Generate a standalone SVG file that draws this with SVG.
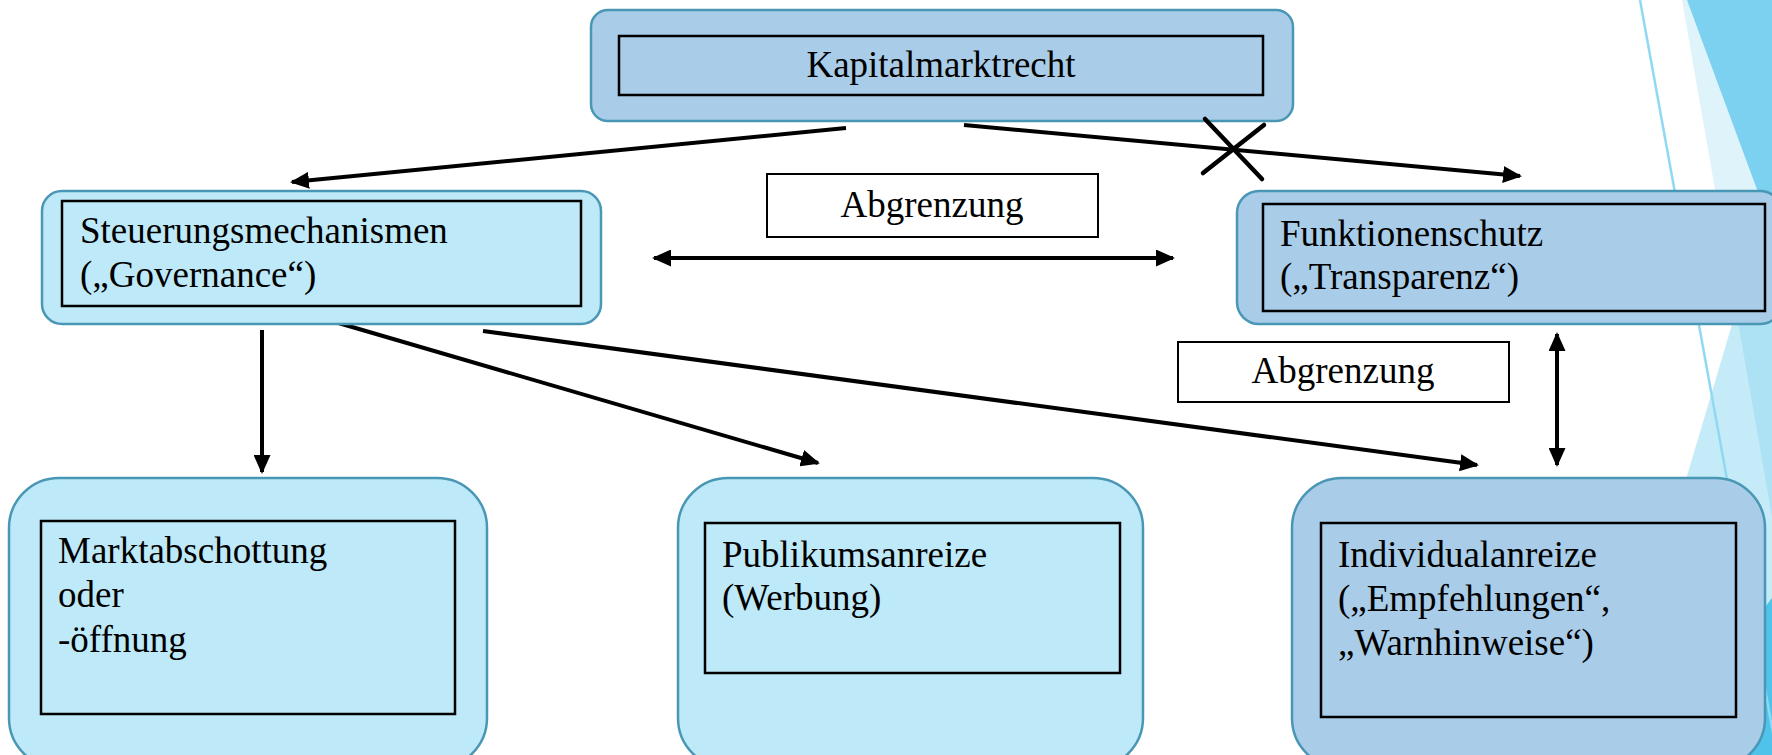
<svg xmlns="http://www.w3.org/2000/svg" width="1772" height="755" viewBox="0 0 1772 755">
<style>
.t{font-family:"Liberation Serif","Times New Roman",serif;font-size:37px;fill:#000}
.c{text-anchor:middle}
.light{fill:#BEE9F8;stroke:#4A97B5;stroke-width:2.5}
.mid{fill:#A9CDE8;stroke:#4A97B5;stroke-width:2.5}
.inner{fill:none;stroke:#000;stroke-width:2.5}
.lab{fill:#fff;stroke:#000;stroke-width:2}
.con line{stroke:#000;stroke-width:4;fill:none}
</style>
<defs>
<marker id="ah" markerUnits="userSpaceOnUse" markerWidth="19" markerHeight="17" refX="17" refY="8.5" orient="auto-start-reverse" viewBox="0 0 19 17">
<path d="M0,0 L19,8.5 L0,17 z" fill="#000"/>
</marker>
</defs>
<rect width="1772" height="755" fill="#fff"/>
<g id="background">
<polygon points="1772,190 1772,755 1604,755" fill="#C5EBF8"/>
<polygon points="1682,0 1772,0 1772,517" fill="rgb(23,168,219)" fill-opacity="0.138"/>
<polygon points="1687,0 1772,0 1772,230" fill="#7BD1EF"/>
<polygon points="1772,598 1772,755 1650,755" fill="#4FC3EA"/>
<line x1="1640" y1="0" x2="1777" y2="755" stroke="#8FD9F2" stroke-width="2.5"/>
</g>
<g id="connectors" class="con">
<line x1="846" y1="128" x2="292" y2="182" marker-end="url(#ah)"/>
<line x1="964" y1="125" x2="1520" y2="176" marker-end="url(#ah)"/>
<line x1="654" y1="258" x2="1173" y2="258" marker-start="url(#ah)" marker-end="url(#ah)"/>
<line x1="262" y1="330" x2="262" y2="472" marker-end="url(#ah)"/>
<line x1="335" y1="322" x2="818" y2="463" marker-end="url(#ah)"/>
<line x1="483" y1="331" x2="1477" y2="465" marker-end="url(#ah)"/>
<line x1="1557" y1="334" x2="1557" y2="465" marker-start="url(#ah)" marker-end="url(#ah)"/>
</g>
<g id="kapitalmarktrecht">
<rect class="mid" x="591" y="10" width="702" height="111" rx="17"/>
<rect class="inner" x="619" y="36" width="644" height="59"/>
<text class="t c" x="941" y="77">Kapitalmarktrecht</text>
</g>
<g id="cross">
<line x1="1205" y1="119" x2="1262" y2="179" stroke="#000" stroke-width="4.5" stroke-linecap="round"/>
<line x1="1264" y1="125" x2="1203" y2="173" stroke="#000" stroke-width="4.5" stroke-linecap="round"/>
</g>
<g id="steuerung">
<rect class="light" x="42" y="191" width="559" height="133" rx="20"/>
<rect class="inner" x="62" y="201" width="519" height="105"/>
<text class="t" x="80" y="243">Steuerungsmechanismen</text>
<text class="t" x="80" y="287">(„Governance“)</text>
</g>
<g id="funktionenschutz">
<rect class="mid" x="1237" y="191" width="545" height="133" rx="22"/>
<rect class="inner" x="1263" y="204" width="502" height="107"/>
<text class="t" x="1280" y="246">Funktionenschutz</text>
<text class="t" x="1280" y="289">(„Transparenz“)</text>
</g>
<g id="abgrenzung1">
<rect class="lab" x="767" y="174" width="331" height="63"/>
<text class="t c" x="932" y="217">Abgrenzung</text>
</g>
<g id="abgrenzung2">
<rect class="lab" x="1178" y="342" width="331" height="60"/>
<text class="t c" x="1343" y="383">Abgrenzung</text>
</g>
<g id="markt">
<rect class="light" x="9" y="478" width="478" height="290" rx="50"/>
<rect class="inner" x="41" y="521" width="414" height="193"/>
<text class="t" x="58" y="563">Marktabschottung</text>
<text class="t" x="58" y="607">oder</text>
<text class="t" x="58" y="652">-öffnung</text>
</g>
<g id="publikum">
<rect class="light" x="678" y="478" width="465" height="290" rx="50"/>
<rect class="inner" x="705" y="523" width="415" height="150"/>
<text class="t" x="722" y="567">Publikumsanreize</text>
<text class="t" x="722" y="610">(Werbung)</text>
</g>
<g id="individual">
<rect class="mid" x="1292" y="478" width="473" height="290" rx="50"/>
<rect class="inner" x="1321" y="523" width="415" height="194"/>
<text class="t" x="1338" y="567">Individualanreize</text>
<text class="t" x="1338" y="611">(„Empfehlungen“,</text>
<text class="t" x="1338" y="655">„Warnhinweise“)</text>
</g>
</svg>
